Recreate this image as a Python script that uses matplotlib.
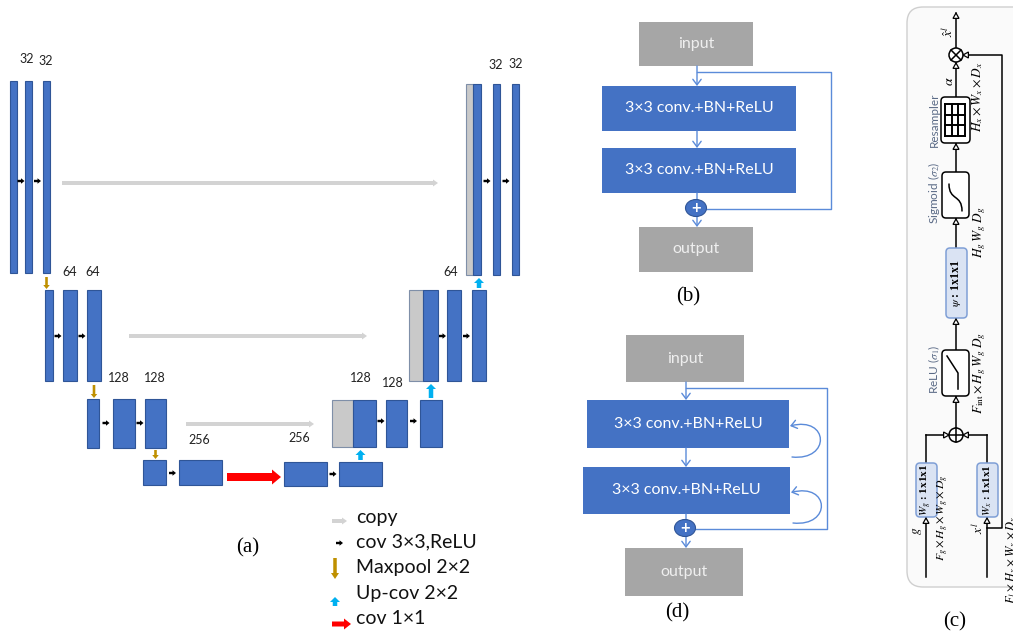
import matplotlib.pyplot as plt
from matplotlib.patches import Rectangle, FancyArrow, FancyBboxPatch, FancyArrowPatch, Ellipse, Circle, Polygon
from matplotlib.path import Path

plt.rcParams['font.family'] = ['Lato', 'DejaVu Sans']
plt.rcParams['mathtext.fontset'] = 'stix'

BLUE = '#4472C4'
BLUE_EDGE = '#2F5597'
GREY_BOX = '#A6A6A6'
LINE = '#5B8BD9'

# channel counts printed over the U-Net feature maps
enc_labels = [['32', '32'], ['64', '64'], ['128', '128'], ['256']]
dec_labels = [['256'], ['128', '128'], ['64'], ['32', '32']]

legend_labels = ['copy', 'cov 3\u00d73,ReLU', 'Maxpool 2\u00d72', 'Up-cov 2\u00d72', 'cov 1\u00d71']
block_text = '3\u00d73 conv.+BN+ReLU'
panel_tags = ['(a)', '(b)', '(c)', '(d)']

fig = plt.figure(figsize=(10.13, 6.33), dpi=100)
ax = fig.add_axes([0, 0, 1, 1])
ax.set_xlim(0, 1013)
ax.set_ylim(633, 0)
ax.axis('off')


def fmap(x0, x1, y0, y1, fc=BLUE):
    ax.add_patch(Rectangle((x0, y0), x1 - x0, y1 - y0, fc=fc, ec=BLUE_EDGE if fc == BLUE else '#7F8FA8', lw=0.8))


def arrow(x, y, dx, dy, color, w, hw, hl, z=2):
    ax.add_patch(FancyArrow(x, y, dx, dy, width=w, head_width=hw, head_length=hl,
                            length_includes_head=True, color=color, lw=0, zorder=z))


def conv_arrow(x0, x1, y):
    xm = (x0 + x1) / 2
    arrow(xm - 3.5, y, 7, 0, 'black', 2.4, 5.5, 3.5)


def copy_arrow(x0, x1, y):
    arrow(x0, y, x1 - x0, 0, '#D3D3D3', 4, 7, 5)


def pool_arrow(x, y0, y1, w=2.6, hw=6.5, hl=4):
    arrow(x, y0, 0, y1 - y0, '#BF9000', w, hw, hl, z=3)


def up_arrow(x, y0, y1):
    arrow(x, y0, 0, y1 - y0, '#00B0F0', 4.5, 10, 5)


# ---------------- (a) U-Net ----------------
enc_y = [(81, 273), (290, 381), (399, 448), (460, 485)]
enc_x = [
    [(10, 17), (25, 32), (43, 50)],
    [(45, 53), (63, 77), (87, 101)],
    [(87, 99), (113, 135), (145, 166)],
    [(143, 166), (179, 222)],
]
enc_lab_pos = [[(27, 59), (46, 61)], [(70, 272), (93, 272)], [(119, 378), (155, 378)], [(199, 440)]]
enc_mid = [181, 336, 423, 473]

for lvl, (y0, y1) in enumerate(enc_y):
    bars = enc_x[lvl]
    for x0, x1 in bars:
        fmap(x0, x1, y0, y1)
    for (a0, a1), (b0, b1) in zip(bars[:-1], bars[1:]):
        conv_arrow(a1, b0, enc_mid[lvl])
    for txt, (tx, ty) in zip(enc_labels[lvl], enc_lab_pos[lvl]):
        ax.text(tx, ty, txt, fontsize=9, ha='center', va='center', color='#222222')
    if lvl < 3:
        lx = (bars[-1][0] + bars[-1][1]) / 2
        ny = enc_y[lvl + 1][0]
        pool_arrow(lx, min(y1 + 4, ny - 10), ny - 1)

dec_y = [(462, 486), (400, 447), (290, 381), (84, 275)]
dec_x = [
    [(284, 327), (339, 382)],
    [(353, 376), (386, 407), (420, 442)],
    [(423, 438), (447, 461), (472, 486)],
    [(473, 481), (493, 500), (512, 519)],
]
dec_copy = [None, (332, 353), (409, 423), (466, 473)]
dec_lab_pos = [[(299, 438)], [(361, 378), (393, 383)], [(451, 272)], [(496, 65), (516, 64)]]
dec_mid = [474, 421, 336, 181]

for lvl, (y0, y1) in enumerate(dec_y):
    bars = dec_x[lvl]
    if dec_copy[lvl] is not None:
        c0, c1 = dec_copy[lvl]
        fmap(c0, c1, y0, y1, fc='#C9C9C9')
    for x0, x1 in bars:
        fmap(x0, x1, y0, y1)
    for (a0, a1), (b0, b1) in zip(bars[:-1], bars[1:]):
        conv_arrow(a1, b0, dec_mid[lvl])
    for txt, (tx, ty) in zip(dec_labels[lvl], dec_lab_pos[lvl]):
        ax.text(tx, ty, txt, fontsize=9, ha='center', va='center', color='#222222')
    if lvl < 3:
        ux = (bars[-1][0] + bars[-1][1]) / 2
        up_arrow(ux, y0 - 2, dec_y[lvl + 1][1] + 3)

# skip connections
for x0, x1, y in [(62, 438, 183), (129, 367, 336), (186, 314, 424)]:
    copy_arrow(x0, x1, y)

# bottleneck 1x1 conv
arrow(227, 477, 54, 0, '#FF0000', 8, 15, 9)

# legend
leg_y = [517, 542, 567, 593, 619]
copy_arrow(332, 347, leg_y[0] + 4)
conv_arrow(332, 347, leg_y[1] + 1)
pool_arrow(335, leg_y[2] - 9, leg_y[2] + 12, w=3.5, hw=8, hl=6)
up_arrow(335, leg_y[3] + 13, leg_y[3] + 4)
arrow(332, leg_y[4] + 5, 19, 0, '#FF0000', 5, 11, 7)
for txt, y in zip(legend_labels, leg_y):
    ax.text(356, y, txt, fontsize=14, ha='left', va='center', color='#111111')

ax.text(248, 548, panel_tags[0], fontsize=15, ha='center', va='center', family='Liberation Serif')


# ---------------- (b) and (d) residual blocks ----------------
def box(x0, y0, x1, y1, fc, txt, tc):
    ax.add_patch(Rectangle((x0, y0), x1 - x0, y1 - y0, fc=fc, ec='none'))
    ax.text((x0 + x1) / 2, (y0 + y1) / 2, txt, fontsize=11.5, ha='center', va='center', color=tc)


def link(x, y0, y1, head=True):
    ax.add_patch(FancyArrowPatch((x, y0), (x, y1), arrowstyle='->,head_length=4,head_width=3' if head else '-',
                                 color=LINE, lw=1.0, shrinkA=0, shrinkB=0, mutation_scale=1))


def adder(x, y):
    ax.add_patch(Ellipse((x, y), 21, 17, fc=BLUE, ec=BLUE_EDGE, lw=0.8, zorder=4))
    ax.text(x, y, '+', fontsize=12, color='white', ha='center', va='center', fontweight='bold', zorder=5)


def loop(x, ytop, ybot):
    p = Path([(x + 3, ybot), (x + 42, ybot + 4), (x + 40, ytop - 10), (x + 1, ytop)],
             [Path.MOVETO, Path.CURVE4, Path.CURVE4, Path.CURVE4])
    ax.add_patch(FancyArrowPatch(path=p, arrowstyle='->,head_length=4,head_width=3', color=LINE,
                                 lw=1.0, mutation_scale=1))


def res_block(inp, c1, c2, out, add, skip_x, skip_y, tag, tag_y, loops=False):
    box(*inp, GREY_BOX, 'input', '#EFEFEF')
    box(*c1, BLUE, block_text, 'white')
    box(*c2, BLUE, block_text, 'white')
    box(*out, GREY_BOX, 'output', '#EFEFEF')
    cx = add[0] + 1
    link(cx, inp[3], c1[1])
    link(cx, c1[3], c2[1])
    link(cx, c2[3], add[1] - 8, head=False)
    link(cx, add[1] + 8, out[1])
    adder(*add)
    ax.plot([cx, skip_x, skip_x, add[0] + 10], [skip_y, skip_y, add[1] + 1, add[1] + 1], color=LINE, lw=1.0)
    if loops:
        loop(c1[2], (c1[1] + c1[3]) / 2 + 2, c1[3] + 9)
        loop(c2[2], (c2[1] + c2[3]) / 2 + 2, c2[3] + 9)
    ax.text(cx - 9, tag_y, tag, fontsize=15, ha='center', va='center', family='Liberation Serif')


res_block((639, 22, 753, 66), (602, 86, 796, 131), (602, 148, 796, 193), (639, 227, 753, 272),
          (696, 208), 831, 72, panel_tags[1], 297)
res_block((626, 335, 744, 382), (587, 400, 789, 448), (583, 467, 790, 514), (625, 548, 743, 596),
          (685, 528), 827, 388, panel_tags[3], 613, loops=True)


# ---------------- (c) attention gate ----------------
ax.add_patch(FancyBboxPatch((907, 7), 140, 580, boxstyle='round,pad=0,rounding_size=16',
                            fc='#FAFAFA', ec='#CFCFCF', lw=1.0))


def tri(x, y, d, s=3.0):
    dx, dy = {'up': (0, -1), 'down': (0, 1), 'left': (-1, 0), 'right': (1, 0)}[d]
    px, py = -dy, dx
    pts = [(x, y), (x - dx * s * 1.8 + px * s, y - dy * s * 1.8 + py * s),
           (x - dx * s * 1.8 - px * s, y - dy * s * 1.8 - py * s)]
    ax.add_patch(Polygon(pts, closed=True, fc='white', ec='black', lw=0.9, zorder=6))


def seg(xs, ys, z=3, lw=1.1):
    ax.plot(xs, ys, color='black', lw=lw, zorder=z)


def op_box(x0, y0, x1, y1, fc='white', ec='black'):
    ax.add_patch(FancyBboxPatch((x0, y0), x1 - x0, y1 - y0, boxstyle='round,pad=0,rounding_size=4',
                                fc=fc, ec=ec, lw=1.1, zorder=4))


gx = 956
# main vertical path
seg([gx, gx], [13, 48])
tri(gx, 13, 'up')
ax.add_patch(Circle((gx, 55), 7, fc='white', ec='black', lw=1.1, zorder=4))
seg([gx - 5, gx + 5], [50, 60], z=5)
seg([gx - 5, gx + 5], [60, 50], z=5)
seg([gx, gx], [62, 97])
tri(gx, 63, 'up')
op_box(941, 97, 970, 143)
for gxl in [945, 951.7, 958.3, 965]:
    seg([gxl, gxl], [104, 136], z=5, lw=1.4)
for gyl in [104, 114.7, 125.3, 136]:
    seg([945, 965], [gyl, gyl], z=5, lw=1.4)
seg([gx, gx], [143, 172])
tri(gx, 144, 'up')
op_box(942, 172, 969, 218)
sig = Path([(962, 211), (962, 194), (949, 201), (949, 184)],
           [Path.MOVETO, Path.CURVE4, Path.CURVE4, Path.CURVE4])
ax.add_patch(FancyArrowPatch(path=sig, arrowstyle='-', color='black', lw=1.1, zorder=5))
seg([gx, gx], [218, 248])
tri(gx, 219, 'up')
op_box(946, 248, 967, 318, fc='#DAE3F3', ec='#7F9FD6')
seg([gx, gx], [318, 350])
tri(gx, 319, 'up')
op_box(942, 350, 969, 396)
seg([958, 958, 947], [389, 373, 356], z=5)
seg([gx, gx], [396, 428])
tri(gx, 397, 'up')
ax.add_patch(Circle((gx, 435), 7, fc='white', ec='black', lw=1.1, zorder=4))
seg([gx - 7, gx + 7], [435, 435], z=5)
seg([gx, gx], [428, 442], z=5)
# gating and skip inputs
seg([926, 949], [435, 435])
tri(949, 435, 'right')
seg([987, 963], [435, 435])
tri(963, 435, 'left')
seg([926, 926], [435, 463])
seg([987, 987], [435, 463])
op_box(916, 463, 937, 517, fc='#DAE3F3', ec='#7F9FD6')
op_box(977, 463, 998, 517, fc='#DAE3F3', ec='#7F9FD6')
seg([926, 926], [518, 577])
tri(926, 518, 'up')
seg([987, 987], [518, 577])
tri(987, 518, 'up')
seg([987, 1002, 1002, 965], [528, 528, 55, 55])
tri(963, 55, 'left')

lab = dict(rotation=90, ha='center', va='center', zorder=7)
ax.text(934, 120, 'Resampler', fontsize=8.5, color='#5A6A86', **lab)
ax.text(934, 193, r'Sigmoid ($\sigma_2$)', fontsize=8.5, color='#5A6A86', **lab)
ax.text(934, 369, r'ReLU ($\sigma_1$)', fontsize=8.5, color='#5A6A86', **lab)
ax.text(949, 81, r'$\alpha$', fontsize=10, **lab)
ax.text(947, 31, r'$\hat{x}^l$', fontsize=9.5, **lab)
ax.text(978, 97, r'$H_x \times W_x \times D_x$', fontsize=9.5, **lab)
ax.text(980, 232, r'$H_g\,W_g\;D_g$', fontsize=9.5, **lab)
ax.text(980, 373, r'$F_{\mathrm{int}} \times H_g\,W_g\;D_g$', fontsize=9.5, **lab)
ax.text(943, 518, r'$F_g \times H_g \times W_g \times D_g$', fontsize=8.5, **lab)
ax.text(917, 531, r'$g$', fontsize=9.5, **lab)
ax.text(977, 528, r'$x^l$', fontsize=9.5, **lab)
ax.text(1012, 560, r'$F_l \times H_x \times W_x \times D_x$', fontsize=9, **lab)
ax.text(956, 283, r'$\psi$ : 1x1x1', fontsize=8.5, family='Liberation Serif', fontweight='bold', **lab)
ax.text(926, 490, r'$W_g$ : 1x1x1', fontsize=8, family='Liberation Serif', fontweight='bold', **lab)
ax.text(987.5, 490, r'$W_x$ : 1x1x1', fontsize=8, family='Liberation Serif', fontweight='bold', **lab)
ax.text(955, 622, panel_tags[2], fontsize=15, ha='center', va='center', family='Liberation Serif')

fig.savefig('out.png', dpi=100, facecolor='white')
